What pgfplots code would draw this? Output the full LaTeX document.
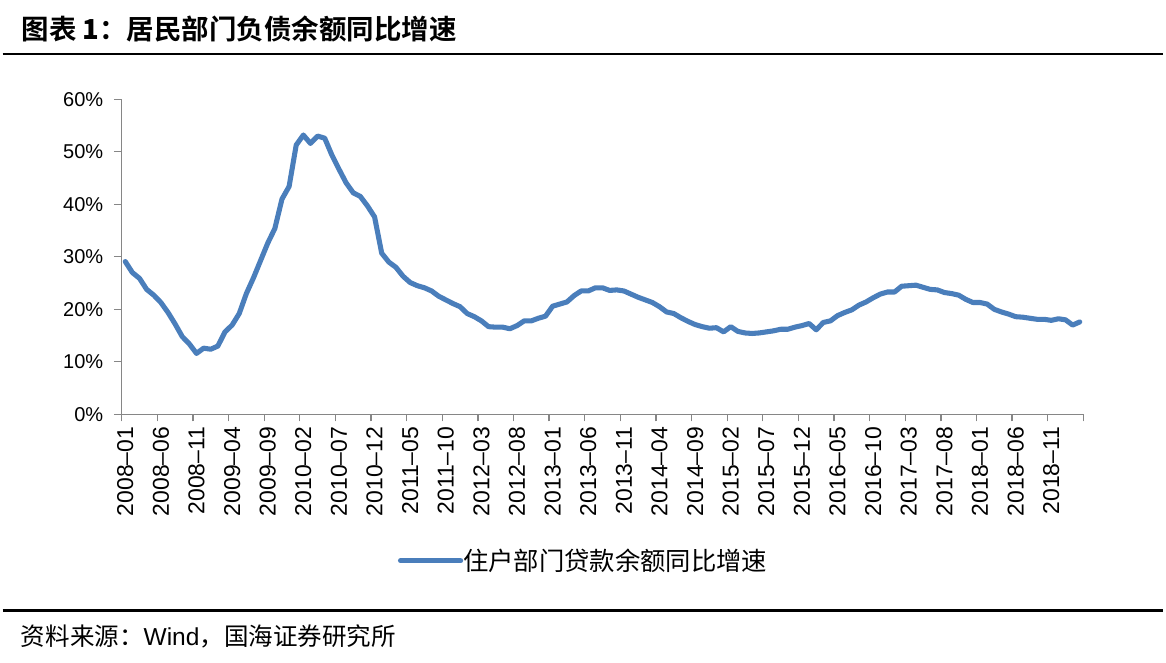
\documentclass[border=0pt]{standalone}
\usepackage{pgfplots}
\usepackage{pgfplotstable}
\pgfplotsset{compat=1.18}
\usepackage{fontspec}
\setmainfont{Liberation Sans}
\newfontfamily\cjk{Noto Sans CJK SC}
\newfontfamily\cjkb{Noto Sans CJK SC Bold}
\definecolor{serblue}{HTML}{4A7EBB}
\definecolor{axgray}{HTML}{868686}

\pgfplotstableread{
i v
0 29.1
1 27.0
2 25.9
3 23.8
4 22.7
5 21.3
6 19.4
7 17.2
8 14.8
9 13.4
10 11.6
11 12.6
12 12.4
13 13.0
14 15.7
15 17.0
16 19.2
17 23.0
18 26.0
19 29.3
20 32.6
21 35.4
22 41.0
23 43.4
24 51.3
25 53.2
26 51.6
27 53.0
28 52.6
29 49.4
30 46.7
31 44.1
32 42.2
33 41.5
34 39.7
35 37.6
36 30.7
37 29.0
38 28.0
39 26.3
40 25.1
41 24.5
42 24.1
43 23.5
44 22.5
45 21.8
46 21.1
47 20.5
48 19.2
49 18.6
50 17.8
51 16.7
52 16.6
53 16.6
54 16.3
55 16.9
56 17.8
57 17.8
58 18.3
59 18.7
60 20.6
61 21.0
62 21.4
63 22.6
64 23.5
65 23.5
66 24.1
67 24.1
68 23.6
69 23.7
70 23.5
71 22.9
72 22.3
73 21.8
74 21.3
75 20.5
76 19.5
77 19.2
78 18.4
79 17.7
80 17.1
81 16.7
82 16.4
83 16.5
84 15.7
85 16.7
86 15.8
87 15.5
88 15.4
89 15.5
90 15.7
91 15.9
92 16.2
93 16.2
94 16.6
95 16.9
96 17.3
97 16.1
98 17.5
99 17.8
100 18.8
101 19.4
102 19.9
103 20.8
104 21.4
105 22.2
106 22.9
107 23.3
108 23.3
109 24.4
110 24.5
111 24.6
112 24.2
113 23.8
114 23.7
115 23.2
116 23.0
117 22.7
118 21.9
119 21.3
120 21.3
121 21.0
122 20.0
123 19.5
124 19.1
125 18.6
126 18.5
127 18.3
128 18.1
129 18.1
130 17.9
131 18.2
132 18.0
133 17.0
134 17.6
}\datatable

\begin{document}
\begin{tikzpicture}
\useasboundingbox (0,0) rectangle (874.5pt,-496.5pt);
\fill[white] (0,0) rectangle (874.5pt,-496.5pt);
\node[anchor=west,inner sep=0pt] at (16pt,-21.75pt) {\fontsize{20.6}{22}\selectfont\cjkb 图表 \textbf{1}：居民部门负债余额同比增速};
\draw[line width=1.9pt] (2pt,-40.5pt) -- (872.5pt,-40.5pt);
\draw[line width=1.9pt] (2pt,-458pt) -- (872.5pt,-458pt);
\node[anchor=west,inner sep=0pt] at (15.5pt,-477.4pt) {\fontsize{18.4}{20}\selectfont\cjk 资料来源：\rmfamily Wind\cjk ，国海证券研究所};
\begin{axis}[
  at={(91.28pt,-310.73pt)}, anchor=south west,
  width=721.2pt, height=236.25pt, scale only axis,
  axis lines=left, axis line style={-, draw=axgray, line width=1pt},
  xmin=-0.5, xmax=134.5, ymin=0, ymax=60, enlargelimits=false,
  ytick={0,10,...,60},
  yticklabels={0\%,10\%,20\%,30\%,40\%,50\%,60\%},
  xtick={0,5,...,130},
  xticklabels={2008–01,2008–06,2008–11,2009–04,2009–09,2010–02,2010–07,2010–12,2011–05,2011–10,2012–03,2012–08,2013–01,2013–06,2013–11,2014–04,2014–09,2015–02,2015–07,2015–12,2016–05,2016–10,2017–03,2017–08,2018–01,2018–06,2018–11},
  minor xtick={-0.5,4.5,...,134.5},
  major x tick style={draw=none},
  tick align=outside, major tick length=5.8pt, minor tick length=5.25pt,
  tick style={axgray, line width=1pt},
  xticklabel style={rotate=90, anchor=east, font=\fontsize{17.2}{18}\selectfont},
  yticklabel style={font=\fontsize{15}{16}\selectfont, xshift=-4.5pt},
  legend style={at={(axis description cs:0.2873,-0.4648)}, anchor=west, draw=none, fill=none, inner sep=0pt, outer sep=0pt, nodes={inner sep=0pt}, font=\cjk\fontsize{19}{20}\selectfont, /tikz/every even column/.append style={column sep=5.5pt}},
  legend image code/.code={\draw[#1] (1.9pt,0pt) -- (47pt,0pt);},
]
\addplot[serblue, line width=3.8pt, line cap=round, line join=round] table[x=i,y=v] {\datatable};
\addlegendentry{住户部门贷款余额同比增速}
\end{axis}
\end{tikzpicture}
\end{document}
